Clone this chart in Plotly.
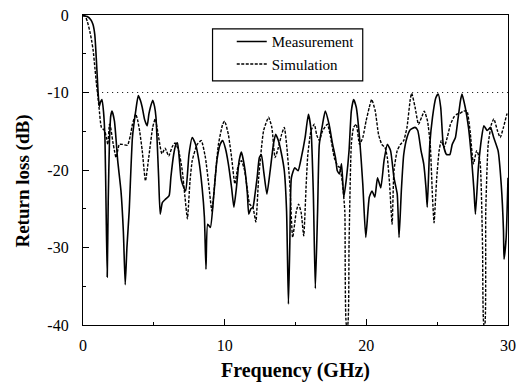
import plotly.graph_objects as go

meas_freq = [0, 0.3, 0.55, 0.7, 0.83, 0.95, 1.06, 1.15, 1.22, 1.34, 1.45, 1.55, 1.63, 1.71, 1.78, 1.87, 1.96, 2.05,
             2.22, 2.45, 2.68, 2.85, 2.98, 3.1, 3.26, 3.49, 3.72, 3.9, 4.05, 4.18, 4.35, 4.53, 4.65, 4.76, 4.92,
             5.05, 5.15, 5.25, 5.34, 5.45, 5.6, 5.8, 6.08, 6.2, 6.4, 6.56, 6.67, 6.79, 6.91, 7.02, 7.25, 7.48,
             7.71, 7.95, 8.18, 8.41, 8.57, 8.68, 8.8, 8.99, 9.22, 9.45, 9.68, 9.86, 10.05, 10.26, 10.49, 10.65,
             10.83, 11.02, 11.18, 11.41, 11.6, 11.7, 11.85, 12.0, 12.15, 12.29, 12.45, 12.59, 12.75, 12.98,
             13.21, 13.44, 13.6, 13.79, 14.02, 14.21, 14.37, 14.5, 14.6, 14.71, 14.95, 15.18, 15.41, 15.68,
             15.91, 16.1, 16.26, 16.4, 16.56, 16.68, 16.91, 17.1, 17.37, 17.6, 17.83, 17.95, 18.1, 18.25, 18.41,
             18.6, 18.78, 18.94, 19.1, 19.29, 19.52, 19.75, 19.96, 20.21, 20.4, 20.6, 20.79, 21.02, 21.25,
             21.48, 21.71, 21.95, 22.18, 22.31, 22.47, 22.64, 22.87, 23.1, 23.44, 23.63, 23.86, 24.05, 24.21,
             24.3, 24.48, 24.67, 24.9, 25.07, 25.25, 25.43, 25.66, 25.9, 26.06, 26.29, 26.45, 26.64, 26.75,
             26.98, 27.21, 27.44, 27.6, 27.7, 27.91, 28.14, 28.3, 28.53, 28.76, 28.99, 29.3, 29.52, 29.68,
             29.72, 29.87, 30.0]
meas_db = [-0.1, -0.2, -0.6, -1.2, -2.5, -6, -9.8, -11.8, -11.3, -10.9, -12.5, -16, -25, -33.8, -24, -16.2, -13, -12.4,
           -13.7, -18.8, -22.7, -28, -34.8, -30, -25.3, -15.8, -12.4, -10.4, -11, -11.9, -13.5, -14.3, -12.8, -11.9, -11.0,
           -11.8, -13.2, -17, -21.0, -25.7, -24.2, -23.8, -23.3, -21, -18.0, -16.7, -16.5, -18.4, -21.0, -21.8, -22.7, -18.0,
           -15.8, -16.7, -18.8, -22.3, -26.1, -32.8, -27, -27.4, -23.5, -18.8, -16.7, -16.2, -17.2, -19.2, -22.3, -24.8,
           -22.3, -18.8, -17.7, -19.7, -23, -25.7, -25, -24.8, -23, -21, -18.4, -18.0, -20.1, -23.1,
           -20.1, -16.7, -15.4, -16.2, -18, -20.1, -25.3, -37.3, -29.5, -21, -19.7, -20.1, -18.4, -15.8,
           -12.8, -14.9, -23.1, -35.3, -25.3, -16.7, -14.1, -12.4, -14.1, -16.5, -18.5, -20.1, -20.5, -19.2, -23.5,
           -21, -17.5, -12.4, -10.9, -11.9, -15.8, -21.8, -28.7, -23.5, -22.7, -23.5, -21, -22.3, -18.8,
           -16.7, -17.5, -21, -23.1, -28.7, -22.7, -18, -15.8, -14.8, -14.5, -14.9, -17.5, -19.2, -22.3,
           -24.8, -16.7, -13.2, -10.7, -10.2, -11.9, -16.7, -18, -18, -16.7, -15.8, -13.7, -11.1, -10.2,
           -11.9, -14.5, -18.8, -22.7, -25.7, -19.7, -15.8, -14.3, -14.9, -14.5, -15.8, -17.5, -21.8, -27.8,
           -31.5, -28.7, -21]

sim_freq = [0, 0.14, 0.3, 0.48, 0.6, 0.72, 0.85, 0.95, 1.05, 1.13, 1.3, 1.52, 1.65, 1.75, 1.87, 1.95, 2.1, 2.22,
            2.33, 2.45, 2.56, 2.79, 3.14, 3.35, 3.49, 3.72, 3.85, 4.0, 4.18, 4.41, 4.64, 4.92, 5.1, 5.34, 5.57,
            5.8, 6.05, 6.3, 6.5, 6.75, 7.0, 7.2, 7.37, 7.55, 7.71, 8.06, 8.35, 8.64, 8.87, 9.1, 9.33, 9.56,
            9.86, 10.0, 10.26, 10.49, 10.72, 10.95, 11.18, 11.4, 11.6, 11.76, 11.99, 12.2, 12.4, 12.75, 13.1,
            13.33, 13.56, 13.79, 14.02, 14.21, 14.37, 14.6, 14.8, 15.06, 15.22, 15.4, 15.58, 15.75, 15.87,
            16.1, 16.33, 16.5, 16.68, 16.9, 17.25, 17.48, 17.75, 18.0, 18.13, 18.3, 18.48, 18.6, 18.68, 18.78,
            18.94, 19.1, 19.29, 19.52, 19.75, 19.98, 20.21, 20.38, 20.63, 20.86, 21.09, 21.32, 21.48, 21.64,
            21.82, 21.95, 22.18, 22.41, 22.64, 22.87, 23.1, 23.2, 23.44, 23.68, 23.9, 24.09, 24.32, 24.51,
            24.67, 24.78, 24.97, 25.14, 25.29, 25.48, 25.71, 25.94, 26.17, 26.4, 26.6, 26.87, 27.1, 27.32,
            27.56, 27.79, 28.02, 28.2, 28.3, 28.36, 28.43, 28.6, 28.83, 29.0, 29.25, 29.45, 29.68, 29.92, 30.0]
sim_db = [-0.1, -0.1, -0.8, -2.1, -3.2, -4.6, -7, -8.9, -10.5, -11.9, -14.5, -14.9, -15.8, -16.7, -14.1, -14.5, -16.3, -17.5,
          -18.4, -17.5, -16.7, -16.7, -16.8, -15.5, -14.1, -12.8, -13.5, -15, -17.5, -21.4, -18.4, -14.5, -13.4, -15.8, -17.9,
          -17.2, -18.2, -17, -16.5, -17.5, -20, -23.5, -26.3, -21.5, -18.8, -16.7, -16.2, -18.4, -21.8, -25.3, -21, -16.7,
          -14.1, -13.7, -15.4, -18.4, -21.8, -19.5, -18.8, -20, -22.5, -24.4, -24.8, -26.7, -21, -14.9, -13.2,
          -14.5, -18.4, -17.1, -15.4, -14.5, -16.7, -21.8, -28.7, -25.3, -24.4, -25.5, -28.5, -22, -18,
          -14.9, -14.1, -15.5, -16.2, -15, -14.1, -15.8, -18.5, -19.5, -19.7, -21.5, -25.3, -40, -40, -29.5,
          -16.7, -14.5, -14.1, -16.7, -15.8, -13.7, -11.9, -10.9, -12.4, -15.4, -16.7, -17.1, -18.4, -21.8,
          -27, -20.1, -17.5, -16.7, -16.2, -14.5, -10.9, -10.1, -11.9, -14.1, -13.2, -12.4, -13.7, -16.7,
          -23.5, -26.8, -21, -17.5, -16.2, -17.1, -15.8, -14.1, -13.2, -12.8, -12.7, -12.4, -12.4, -14.9,
          -19.2, -17.5, -18.8, -29.5, -40, -40, -25.3, -16.7, -14.1, -13.4, -14.9, -15.8, -14.5, -12.8, -12.5]

ref_freq = [1.0, 30]
ref_db = [-10, -10]

x_tick_vals = [0, 10, 20, 30]
x_tick_text = ["0", "10", "20", "30"]
y_tick_vals = [0, -10, -20, -30, -40]
y_tick_text = ["0", "-10", "-20", "-30", "-40"]

serif = "Liberation Serif"

fig = go.Figure()
fig.add_trace(go.Scatter(x=ref_freq, y=ref_db, mode="lines", showlegend=False,
                         line=dict(color="black", width=1, dash="1px,4px"), hoverinfo="skip"))
fig.add_trace(go.Scatter(x=meas_freq, y=meas_db, mode="lines", name="Measurement",
                         line=dict(color="black", width=1.6, shape="spline", smoothing=0.5)))
fig.add_trace(go.Scatter(x=sim_freq, y=sim_db, mode="lines", name="Simulation",
                         line=dict(color="black", width=1.4, dash="3px,1.5px", shape="spline", smoothing=0.5)))

axis_common = dict(showline=True, linecolor="black", linewidth=1.2, mirror=True, showgrid=False, zeroline=False,
                   ticks="inside", ticklen=6, tickwidth=1.2, tickcolor="black",
                   tickfont=dict(family=serif, size=16, color="black"),
                   minor=dict(ticks="inside", ticklen=3, tickwidth=1, tickcolor="black", dtick=5))

fig.update_xaxes(range=[0, 30], tickvals=x_tick_vals, ticktext=x_tick_text,
                 ticklabelstandoff=6, ticklabeloverflow="allow",
                 title=dict(text="<b>Frequency (GHz)</b>", font=dict(family=serif, size=20, color="black"), standoff=9),
                 **axis_common)
fig.update_yaxes(range=[-40, 0], tickvals=y_tick_vals, ticktext=y_tick_text,
                 ticklabelstandoff=10, ticklabeloverflow="allow",
                 **axis_common)

fig.add_annotation(text="<b>Return loss (dB)</b>", xref="paper", yref="paper",
                   x=-0.141, y=0.463, xanchor="center", yanchor="middle", textangle=-90, showarrow=False,
                   font=dict(family=serif, size=19, color="black"))

fig.add_shape(type="rect", xref="paper", yref="paper", x0=0.3048, x1=0.6582, y0=0.7878, y1=0.955,
              line=dict(color="black", width=1.2), fillcolor="white", layer="above")

fig.update_layout(width=523, height=389, margin=dict(l=83, r=7, t=14, b=64),
                  paper_bgcolor="white", plot_bgcolor="white",
                  legend=dict(x=0.35, y=0.967, xanchor="left", yanchor="top", bgcolor="rgba(0,0,0,0)",
                              borderwidth=0,
                              font=dict(family=serif, size=15, color="black"),
                              tracegroupgap=0, itemwidth=30),
                  showlegend=True)

fig.write_html("out.html")
